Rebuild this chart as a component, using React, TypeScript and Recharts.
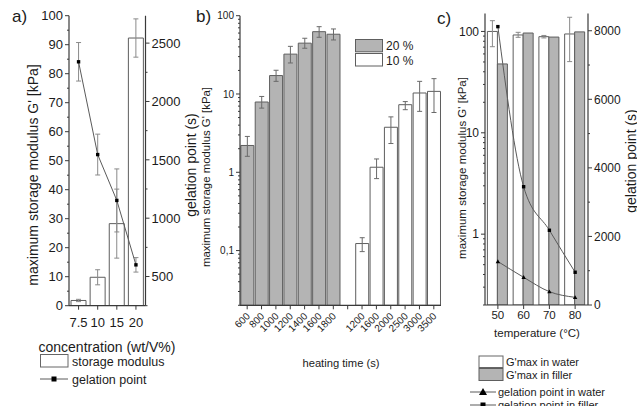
import React from 'react';
import { ComposedChart, BarChart, Bar, Line, XAxis, YAxis, ErrorBar, Cell } from 'recharts';

const FONT = '"Liberation Sans", Arial, Helvetica, sans-serif';
const TEXT = '#1b1b1b';
const AXIS = '#3a3a3a';
const GRAY = '#b4b4b4';
const BAR_STROKE = '#5e5e5e';
const ERR = '#8a8a8a';
const LINE = '#5a5a5a';
const W = 637;
const H = 406;

// ---------- panel a ----------
const concentrations = ['7.5', '10', '15', '20'];
const storageModulus = [1.8, 9.8, 28.3, 92.3];
const storageModulusErr = [0.4, 2.6, 11.9, 6.6];
const gelationPoint = [2340, 1545, 1152, 600];
const gelationPointErr = [165, 175, 270, 62];
const aModulusTicks = [0, 10, 20, 30, 40, 50, 60, 70, 80, 90, 100];
const aModulusMinor = [5, 15, 25, 35, 45, 55, 65, 75, 85, 95];
const aGelTicks = [500, 1000, 1500, 2000, 2500];
const aGelMinor = [250, 750, 1250, 1750, 2250];

// ---------- panel b ----------
const heatingTimes = ['600', '800', '1000', '1200', '1400', '1600', '1800', '', '1200', '1600', '2000', '2500', '3000', '3500'];
const heatingGroups = ['20', '20', '20', '20', '20', '20', '20', '', '10', '10', '10', '10', '10', '10'];
const gmaxHeating = [2.2, 7.9, 17.2, 32.3, 44.6, 62.5, 58, null, 0.123, 1.16, 3.76, 7.3, 10.3, 10.8];
const gmaxHeatingErrLow = [0.6, 1.3, 2.7, 7.4, 6.2, 9.5, 9, null, 0.026, 0.33, 1.43, 1.0, 4.3, 5.0];
const gmaxHeatingErrHigh = [0.67, 1.4, 2.9, 8.3, 6.9, 9.9, 9.7, null, 0.023, 0.32, 1.34, 0.7, 4.2, 4.9];
const bMajorTicks = [0.1, 1, 10, 100];
const bMajorLabels = ['0,1', '1', '10', '100'];
const bLegendLabels = ['20 %', '10 %'];

// ---------- panel c ----------
const temperatures = ['50', '60', '70', '80'];
const gmaxWater = [100, 92.3, 88.8, 94.4];
const gmaxWaterErrLow = [29.3, 4.8, 2.5, 44];
const gmaxWaterErrHigh = [27.7, 5.7, 2.5, 43.6];
const gmaxFiller = [47.8, 96.5, 88, 99];
const gelWater = [1268, 808, 389, 223];
const gelFiller = [8120, 3450, 2180, 955];
const cMajorTicks = [1, 10, 100];
const cMajorLabels = ['1', '10', '100'];
const cGelTicks = [0, 2000, 4000, 6000, 8000];
const cGelMinor = [1000, 3000, 5000, 7000];
const cLegendLabels = ["G'max in water", "G'max in filler", 'gelation point in water', 'gelation point in filler'];

// log minor ticks
const logMinor = (lo: number, hi: number) => {
  const out: number[] = [];
  for (let e = Math.floor(Math.log10(lo)); e < Math.ceil(Math.log10(hi)); e++) {
    for (let k = 2; k <= 9; k++) {
      const v = k * Math.pow(10, e);
      if (v >= lo && v <= hi) out.push(v);
    }
  }
  return out;
};

// ---------- data tables ----------
const dataA = concentrations.map((c, i) => ({
  conc: c,
  modulus: storageModulus[i],
  modulusErr: storageModulusErr[i],
  gel: gelationPoint[i],
  gelErr: gelationPointErr[i],
}));

const dataB = heatingTimes.map((t, i) => ({
  cat: i,
  value: gmaxHeating[i],
  err: gmaxHeating[i] == null ? undefined : [gmaxHeatingErrLow[i], gmaxHeatingErrHigh[i]],
}));

const dataC = temperatures.map((t, i) => ({
  temp: t,
  water: gmaxWater[i],
  waterErr: [gmaxWaterErrLow[i], gmaxWaterErrHigh[i]],
  filler: gmaxFiller[i],
  gelWater: gelWater[i],
  gelFiller: gelFiller[i],
}));

// ---------- tick renderers ----------
function yTick(side: 'left' | 'right', majors: number[], labels: string[], fontSize: number) {
  return (props: any) => {
    const { x, y, payload } = props;
    const v = Number(payload.value);
    const idx = majors.findIndex((m) => Math.abs(m - v) <= Math.abs(m) * 1e-6 + 1e-9);
    const dir = side === 'left' ? -1 : 1;
    const len = idx >= 0 ? 4 : 2;
    return (
      <g>
        <line x1={x} y1={y} x2={x + dir * len} y2={y} stroke={AXIS} strokeWidth={1} />
        {idx >= 0 && (
          <text
            x={x + dir * (len + 2)}
            y={y}
            dy="0.36em"
            textAnchor={side === 'left' ? 'end' : 'start'}
            fontSize={fontSize}
            fontFamily={FONT}
            fill={TEXT}
          >
            {labels[idx]}
          </text>
        )}
      </g>
    );
  };
}

function xTick(fontSize: number, gap: number) {
  return (props: any) => {
    const { x, y, payload } = props;
    return (
      <g>
        <line x1={x} y1={y} x2={x} y2={y + 4} stroke={AXIS} strokeWidth={1} />
        <text x={x} y={y + gap} textAnchor="middle" fontSize={fontSize} fontFamily={FONT} fill={TEXT}>
          {String(payload.value)}
        </text>
      </g>
    );
  };
}

const rotatedTick = (props: any) => {
  const { x, y, payload } = props;
  const label = heatingTimes[Number(payload.value)];
  const ax = x + 1;
  const ay = y + 9;
  return (
    <g>
      <line x1={x} y1={y} x2={x} y2={y + 4} stroke={AXIS} strokeWidth={1} />
      <text
        x={ax}
        y={ay}
        textAnchor="end"
        dominantBaseline="central"
        transform={`rotate(-45, ${ax}, ${ay})`}
        fontSize={10}
        fontFamily={FONT}
        fill={TEXT}
      >
        {label}
      </text>
    </g>
  );
};

const squareDot = (props: any) => {
  const { cx, cy, index } = props;
  if (cx == null || cy == null) return <g key={index} />;
  return <rect key={index} x={cx - 1.7} y={cy - 1.7} width={3.4} height={3.4} fill="#000" />;
};

const triangleDot = (props: any) => {
  const { cx, cy, index } = props;
  if (cx == null || cy == null) return <g key={index} />;
  return <path key={index} d={`M${cx},${cy - 2.2} L${cx + 2.2},${cy + 1.6} L${cx - 2.2},${cy + 1.6} Z`} fill="#000" />;
};

// ---------- layout ----------
const A = { x0: 69, x1: 145.5, y0: 15.7, y1: 305.7 };
const B = { x0: 240, x1: 441, y0: 15.7, y1: 305.3 };
const C = { x0: 485, x1: 588, y0: 13.6, y1: 305 };
const YW = 40;
const XH = 40;

const layer: React.CSSProperties = { position: 'absolute', left: 0, top: 0, width: W, height: H };

function PanelA() {
  return (
    <div style={layer}>
      <ComposedChart
        width={W}
        height={H}
        data={dataA}
        margin={{ left: A.x0 - YW, right: W - A.x1 - YW, top: A.y0, bottom: H - A.y1 - XH }}
        barCategoryGap={2}
      >
        <XAxis
          dataKey="conc"
          type="category"
          height={XH}
          tickSize={0}
          tickMargin={0}
          tickLine={false}
          interval={0}
          axisLine={{ stroke: AXIS, strokeWidth: 1.2 }}
          tick={xTick(13, 21)}
        />
        <YAxis
          yAxisId="left"
          orientation="left"
          width={YW}
          type="number"
          domain={[0, 100]}
          allowDataOverflow
          ticks={[...aModulusTicks, ...aModulusMinor]}
          interval={0}
          tickSize={0}
          tickMargin={0}
          tickLine={false}
          axisLine={{ stroke: AXIS, strokeWidth: 1.2 }}
          tick={yTick('left', aModulusTicks, aModulusTicks.map(String), 13)}
        />
        <YAxis
          yAxisId="right"
          orientation="right"
          width={YW}
          type="number"
          domain={[250, 2735]}
          allowDataOverflow
          ticks={[...aGelTicks, ...aGelMinor]}
          interval={0}
          tickSize={0}
          tickMargin={0}
          tickLine={false}
          axisLine={{ stroke: AXIS, strokeWidth: 1.2 }}
          tick={yTick('right', aGelTicks, aGelTicks.map(String), 13)}
        />
        <Bar yAxisId="left" dataKey="modulus" fill="#ffffff" stroke={BAR_STROKE} strokeWidth={1} isAnimationActive={false}>
          <ErrorBar dataKey="modulusErr" direction="y" width={2.5} stroke={ERR} strokeWidth={1} />
        </Bar>
        <Line
          yAxisId="right"
          dataKey="gel"
          stroke={LINE}
          strokeWidth={1}
          dot={squareDot}
          activeDot={false}
          isAnimationActive={false}
        >
          <ErrorBar dataKey="gelErr" direction="y" width={2.5} stroke={ERR} strokeWidth={1} />
        </Line>
      </ComposedChart>
    </div>
  );
}

function PanelB() {
  return (
    <div style={layer}>
      <BarChart
        width={W}
        height={H}
        data={dataB}
        margin={{ left: B.x0 - YW, right: W - B.x1, top: B.y0, bottom: H - B.y1 - XH }}
        barCategoryGap={0.85}
      >
        <XAxis
          dataKey="cat"
          type="category"
          height={XH}
          tickSize={0}
          tickMargin={0}
          tickLine={false}
          interval={0}
          axisLine={{ stroke: AXIS, strokeWidth: 1.2 }}
          tick={rotatedTick}
        />
        <YAxis
          orientation="left"
          width={YW}
          type="number"
          scale="log"
          domain={[0.02, 100]}
          allowDataOverflow
          ticks={[...bMajorTicks, ...logMinor(0.02, 100)]}
          interval={0}
          tickSize={0}
          tickMargin={0}
          tickLine={false}
          axisLine={{ stroke: AXIS, strokeWidth: 1.2 }}
          tick={yTick('left', bMajorTicks, bMajorLabels, 10)}
        />
        <Bar dataKey="value" stroke={BAR_STROKE} strokeWidth={1} isAnimationActive={false}>
          {dataB.map((d, i) => (
            <Cell key={i} fill={heatingGroups[i] === '20' ? GRAY : '#ffffff'} />
          ))}
          <ErrorBar dataKey="err" direction="y" width={2.5} stroke="#6a6a6a" strokeWidth={1} />
        </Bar>
      </BarChart>
    </div>
  );
}

function PanelC() {
  return (
    <div style={layer}>
      <ComposedChart
        width={W}
        height={H}
        data={dataC}
        margin={{ left: C.x0 - YW, right: W - C.x1 - YW, top: C.y0, bottom: H - C.y1 - XH }}
        barCategoryGap={2.4}
        barGap={0}
      >
        <XAxis
          dataKey="temp"
          type="category"
          height={XH}
          tickSize={0}
          tickMargin={0}
          tickLine={false}
          interval={0}
          axisLine={{ stroke: AXIS, strokeWidth: 1.2 }}
          tick={xTick(11.5, 14)}
        />
        <YAxis
          yAxisId="left"
          orientation="left"
          width={YW}
          type="number"
          scale="log"
          domain={[0.2, 150]}
          allowDataOverflow
          ticks={[...cMajorTicks, ...logMinor(0.2, 150)]}
          interval={0}
          tickSize={0}
          tickMargin={0}
          tickLine={false}
          axisLine={{ stroke: AXIS, strokeWidth: 1.2 }}
          tick={yTick('left', cMajorTicks, cMajorLabels, 12)}
        />
        <YAxis
          yAxisId="right"
          orientation="right"
          width={YW}
          type="number"
          domain={[0, 8500]}
          allowDataOverflow
          ticks={[...cGelTicks, ...cGelMinor]}
          interval={0}
          tickSize={0}
          tickMargin={0}
          tickLine={false}
          axisLine={{ stroke: AXIS, strokeWidth: 1.2 }}
          tick={yTick('right', cGelTicks, cGelTicks.map(String), 12)}
        />
        <Bar yAxisId="left" dataKey="water" fill="#ffffff" stroke={BAR_STROKE} strokeWidth={1} isAnimationActive={false}>
          <ErrorBar dataKey="waterErr" direction="y" width={2.5} stroke={ERR} strokeWidth={1} />
        </Bar>
        <Bar yAxisId="left" dataKey="filler" fill={GRAY} stroke={BAR_STROKE} strokeWidth={1} isAnimationActive={false} />
        <Line
          yAxisId="right"
          dataKey="gelFiller"
          stroke={LINE}
          strokeWidth={1}
          dot={squareDot}
          activeDot={false}
          isAnimationActive={false}
          type="monotone"
        />
        <Line
          yAxisId="right"
          dataKey="gelWater"
          stroke={LINE}
          strokeWidth={1}
          dot={triangleDot}
          activeDot={false}
          isAnimationActive={false}
          type="monotone"
        />
      </ComposedChart>
    </div>
  );
}

const txt = (size: number): React.SVGProps<SVGTextElement> => ({ fontSize: size, fontFamily: FONT, fill: TEXT });

function Overlay() {
  return (
    <svg width={W} height={H} style={{ ...layer, pointerEvents: 'none' }}>
      {/* panel letters */}
      <text x={12} y={22} {...txt(17)}>a)</text>
      <text x={196} y={22} {...txt(17)}>b)</text>
      <text x={437} y={24} {...txt(17)}>c)</text>

      {/* axis titles */}
      <text transform="translate(38,175) rotate(-90)" textAnchor="middle" {...txt(14)}>
        maximum storage modulus G' [kPa]
      </text>
      <text transform="translate(196,165) rotate(-90)" textAnchor="middle" {...txt(14)}>
        gelation point (s)
      </text>
      <text transform="translate(210,177) rotate(-90)" textAnchor="middle" {...txt(11.4)}>
        maximum storage modulus G' [kPa]
      </text>
      <text transform="translate(466,168) rotate(-90)" textAnchor="middle" {...txt(11.5)}>
        maximum storage modulus G' [kPa]
      </text>
      <text transform="translate(636,161) rotate(-90)" textAnchor="middle" {...txt(14)}>
        gelation point (s)
      </text>
      <text x={107} y={352} textAnchor="middle" {...txt(14)}>concentration (wt/V%)</text>
      <text x={341} y={367} textAnchor="middle" {...txt(11.2)}>heating time (s)</text>
      <text x={537} y={337} textAnchor="middle" {...txt(11.5)}>temperature (°C)</text>

      {/* legend a */}
      <rect x={40.5} y={354.5} width={27.5} height={12.5} fill="#fff" stroke="#666" />
      <text x={72} y={365.5} {...txt(12.5)}>storage modulus</text>
      <line x1={40} x2={68} y1={379} y2={379} stroke={LINE} />
      <rect x={51.5} y={376.5} width={5} height={5} fill="#000" />
      <text x={72} y={383.5} {...txt(12.5)}>gelation point</text>

      {/* legend b */}
      <rect x={355.5} y={39.5} width={27} height={12.3} fill={GRAY} stroke={BAR_STROKE} />
      <rect x={355.5} y={53.5} width={27} height={12.5} fill="#fff" stroke={BAR_STROKE} />
      <text x={386} y={50} {...txt(12)}>{bLegendLabels[0]}</text>
      <text x={386} y={64.5} {...txt(12)}>{bLegendLabels[1]}</text>

      {/* legend c */}
      <rect x={479} y={356} width={24} height={11.5} fill="#fff" stroke="#666" />
      <rect x={479} y={368.5} width={24} height={12} fill={GRAY} stroke={BAR_STROKE} />
      <text x={506} y={366} {...txt(11)}>{cLegendLabels[0]}</text>
      <text x={506} y={379} {...txt(11)}>{cLegendLabels[1]}</text>
      <line x1={470} x2={496} y1={392} y2={392} stroke={LINE} />
      <path d="M483,388 L487,395 L479,395 Z" fill="#000" />
      <text x={498} y={396} {...txt(11)}>{cLegendLabels[2]}</text>
      <line x1={470} x2={496} y1={405} y2={405} stroke={LINE} />
      <rect x={480.5} y={402.5} width={5} height={5} fill="#000" />
      <text x={498} y={409} {...txt(11)}>{cLegendLabels[3]}</text>
    </svg>
  );
}

export default function App() {
  return (
    <div style={{ position: 'absolute', left: 0, top: 0, width: W, height: H, background: '#fff', overflow: 'hidden' }}>
      <PanelA />
      <PanelB />
      <PanelC />
      <Overlay />
    </div>
  );
}
